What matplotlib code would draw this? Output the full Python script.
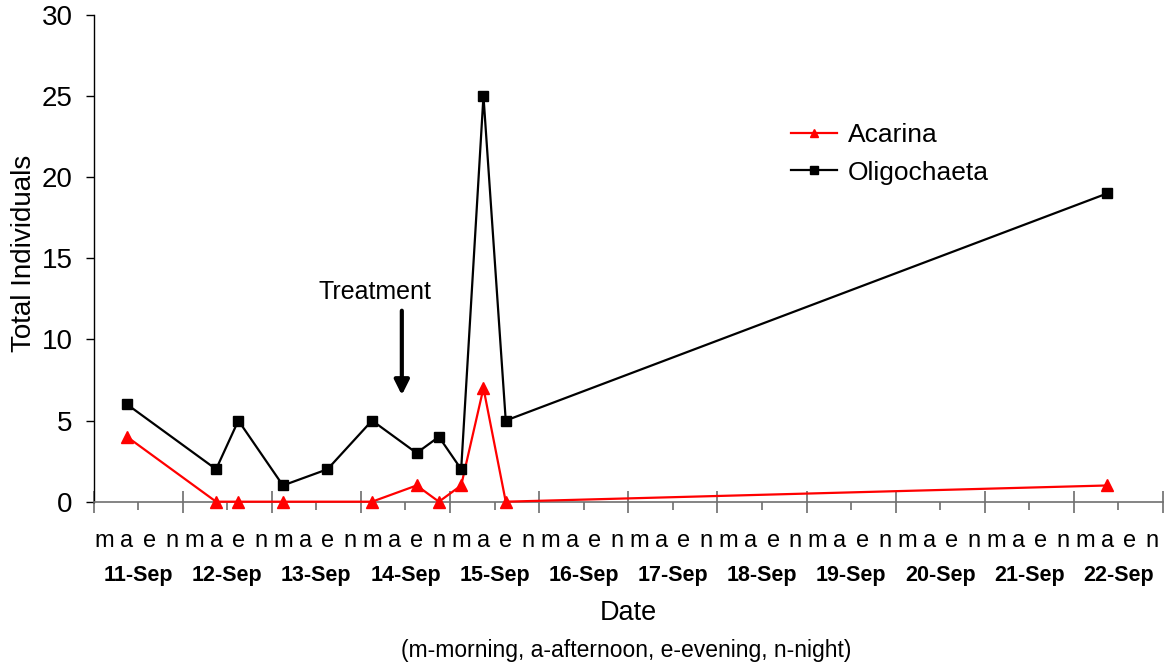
import numpy as np
import matplotlib.pyplot as plt
import matplotlib.transforms as mtransforms

plt.rcParams['font.family'] = ['Liberation Sans', 'DejaVu Sans']

days = ['11-Sep', '12-Sep', '13-Sep', '14-Sep', '15-Sep', '16-Sep',
        '17-Sep', '18-Sep', '19-Sep', '20-Sep', '21-Sep', '22-Sep']
slots = ['m', 'a', 'e', 'n']

# sampling occasions: day index + time-of-day slot
acarina_day = [0, 1, 1, 2, 3, 3, 3, 4, 4, 4, 11]
acarina_slot = ['a', 'a', 'e', 'm', 'm', 'e', 'n', 'm', 'a', 'e', 'a']
acarina = [4, 0, 0, 0, 0, 1, 0, 1, 7, 0, 1]

oligo_day = [0, 1, 1, 2, 2, 3, 3, 3, 4, 4, 4, 11]
oligo_slot = ['a', 'a', 'e', 'm', 'e', 'm', 'e', 'n', 'm', 'a', 'e', 'a']
oligochaeta = [6, 2, 5, 1, 2, 5, 3, 4, 2, 25, 5, 19]


def slot_x(day, slot):
    # each day is split in four equal slots, points sit in the slot centre
    return np.array(day) + (np.array([slots.index(s) for s in slot]) + 0.5) / 4


fig = plt.figure(figsize=(11.65, 6.7), dpi=100)
ax = fig.add_axes([0.0803, 0.2512, 0.918, 0.7266])

l1, = ax.plot(slot_x(acarina_day, acarina_slot), acarina, color='#ff0000',
              lw=1.6, marker='^', ms=8, zorder=3, clip_on=False)
l2, = ax.plot(slot_x(oligo_day, oligo_slot), oligochaeta, color='black',
              lw=1.6, marker='s', ms=7, zorder=4, clip_on=False)

ax.set_xlim(0, len(days))
ax.set_ylim(0, 30)
ax.set_yticks(range(0, 31, 5))
ax.set_xticks(range(len(days) + 1))
ax.set_xticks(np.arange(0.5, len(days), 1), minor=True)
ax.set_xticklabels([])

for s in ['top', 'right']:
    ax.spines[s].set_visible(False)
ax.spines['bottom'].set_color('#707070')
ax.spines['bottom'].set_linewidth(1.2)
ax.spines['left'].set_linewidth(1.0)

ax.tick_params(axis='y', direction='out', length=6, width=1, labelsize=20, pad=9)
ax.tick_params(axis='x', which='major', direction='inout', length=16,
               width=1.1, color='#606060')
ax.tick_params(axis='x', which='minor', direction='out', length=6,
               width=1.1, color='#606060')

# time-of-day letters and dates under the axis
trans = mtransforms.blended_transform_factory(ax.transData, ax.transAxes)
for d, day in enumerate(days):
    for k, s in enumerate(slots):
        ax.text(d + (k + 0.5) / 4, -0.081, s, transform=trans, ha='center',
                va='center', fontsize=17)
    ax.text(d + 0.5, -0.151, day, transform=trans, ha='center', va='center',
            fontsize=15.5, fontweight='bold')

fig.text(628 / 1165, 1 - 613 / 670, 'Date', ha='center', va='center', fontsize=19.5)
fig.text(626 / 1165, 1 - 651 / 670, '(m-morning, a-afternoon, e-evening, n-night)',
         ha='center', va='center', fontsize=16.5)
fig.text(24 / 1165, 1 - 253 / 670, 'Total Individuals', rotation=90, ha='center',
         va='center', fontsize=20)

# treatment marker
ax.text(3.16, 12.92, 'Treatment', ha='center', va='center', fontsize=18)
ax.annotate('', xy=(3.459, 6.57), xytext=(3.459, 11.77),
            arrowprops=dict(arrowstyle='-|>', lw=3, color='black',
                            mutation_scale=22, shrinkA=0, shrinkB=0))

fig.legend([l1, l2], ['Acarina', 'Oligochaeta'], loc='center left',
           bbox_to_anchor=(791 / 1165, 1 - 154 / 670), frameon=False,
           borderpad=0, borderaxespad=0, handlelength=1.75, handletextpad=0.4,
           labelspacing=0.5, markerscale=0.75, fontsize=19)

fig.savefig('out.png', dpi=100)
